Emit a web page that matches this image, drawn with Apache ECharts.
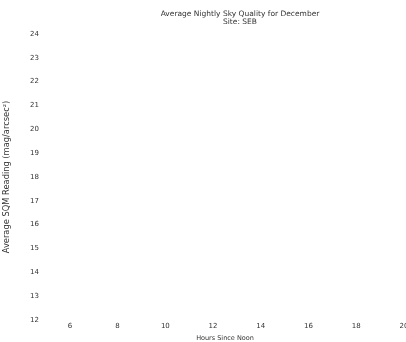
<!DOCTYPE html>
<html><head><meta charset="utf-8">
<script src="https://cdn.jsdelivr.net/npm/echarts@6/dist/echarts.min.js"></script>
<style>html,body{margin:0;padding:0;background:#fff}#c{width:406px;height:342px}</style>
</head><body><div id="c"></div>
<script>
const titleText = 'Average Nightly Sky Quality for December';
const subtitleText = 'Site: SEB';
const xName = 'Hours Since Noon';
const yName = 'Average SQM Reading (mag/arcsec²)';
const xMin = 5, xMax = 20;
const yMin = 12, yMax = 24;
const hours = [];
const readings = [];
const chart = echarts.init(document.getElementById('c'));
const txt = {color:'#333', fontFamily:'DejaVu Sans', fontSize:7};
chart.setOption({
  animation:false,
  backgroundColor:'#fff',
  title:{text:titleText, subtext:subtitleText, left:235, top:5, textAlign:'center', itemGap:0,
    textStyle:{...txt, fontWeight:'normal', fontSize:7.5}, subtextStyle:{...txt, fontSize:7.5}},
  grid:{left:46, right:2, top:34, bottom:22, outerBoundsMode:'none', containLabel:false},
  xAxis:{type:'value', min:xMin, max:xMax, interval:1,
    name:xName, nameLocation:'middle', nameGap:13, nameTextStyle:{...txt, fontSize:6.5},
    axisLine:{show:false}, axisTick:{show:false}, splitLine:{show:false},
    axisLabel:{...txt, margin:3, formatter:v => (v % 2 === 0 ? String(v) : '')}},
  yAxis:{type:'value', min:yMin, max:yMax, interval:1,
    name:yName, nameLocation:'middle', nameGap:35, nameTextStyle:{...txt, fontSize:8.3},
    axisLine:{show:false}, axisTick:{show:false}, splitLine:{show:false},
    axisLabel:{...txt, margin:7}},
  series:[{type:'line', data:hours.map((h,i)=>[h, readings[i]]), showSymbol:false}]
});
</script></body></html>
